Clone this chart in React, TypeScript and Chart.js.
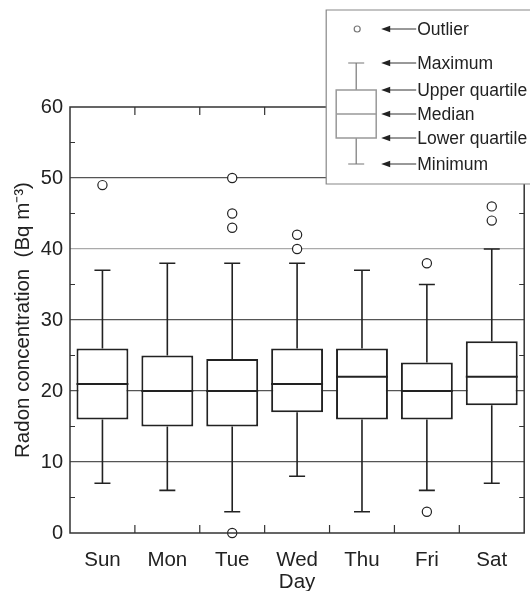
import React, { useEffect, useRef } from "react";
import { Chart, registerables } from "chart.js";

Chart.register(...registerables);

const days = ["Sun", "Mon", "Tue", "Wed", "Thu", "Fri", "Sat"];
const minimum = [7, 6, 3, 8, 3, 6, 7];
const lowerQuartile = [16, 15, 15, 17, 16, 16, 18];
const median = [21, 20, 20, 21, 22, 20, 22];
const upperQuartile = [26, 25, 24.5, 26, 26, 24, 27];
const maximum = [37, 38, 38, 38, 37, 35, 40];
const outlierDays = ["Sun", "Tue", "Tue", "Tue", "Tue", "Wed", "Wed", "Fri", "Fri", "Sat", "Sat"];
const outlierValues = [49, 50, 45, 43, 0, 42, 40, 38, 3, 46, 44];
const yTicks = [0, 10, 20, 30, 40, 50, 60];
const yMinorTicks = [5, 15, 25, 35, 45, 55];
const legendLabels = ["Outlier", "Maximum", "Upper quartile", "Median", "Lower quartile", "Minimum"];

const FONT = "'Liberation Sans', Arial, Helvetica, sans-serif";
const INK = "#222";

const boxPlugin = {
  id: "boxExtras",
  afterDatasetsDraw(chart: any) {
    const { ctx, scales } = chart;
    const xs = scales.x;
    const ys = scales.y;
    const meta = chart.getDatasetMeta(0);
    ctx.save();
    ctx.strokeStyle = INK;
    days.forEach((_, i) => {
      const x = xs.getPixelForValue(i);
      const bar = meta.data[i];
      const half = bar ? bar.width / 2 : 26;
      const cap = 8;
      const yMin = ys.getPixelForValue(minimum[i]);
      const yMax = ys.getPixelForValue(maximum[i]);
      const yQ1 = ys.getPixelForValue(lowerQuartile[i]);
      const yQ3 = ys.getPixelForValue(upperQuartile[i]);
      const yMed = ys.getPixelForValue(median[i]);
      ctx.lineWidth = 1.6;
      ctx.beginPath();
      ctx.moveTo(x, yQ3);
      ctx.lineTo(x, yMax);
      ctx.moveTo(x - cap, yMax);
      ctx.lineTo(x + cap, yMax);
      ctx.moveTo(x, yQ1);
      ctx.lineTo(x, yMin);
      ctx.moveTo(x - cap, yMin);
      ctx.lineTo(x + cap, yMin);
      ctx.stroke();
      ctx.lineWidth = 2;
      ctx.beginPath();
      ctx.moveTo(x - half, yMed);
      ctx.lineTo(x + half, yMed);
      ctx.stroke();
    });
    ctx.restore();
  },
  afterDraw(chart: any) {
    const { ctx, scales, chartArea: ca } = chart;
    const xs = scales.x;
    const ys = scales.y;
    ctx.save();
    // frame
    ctx.strokeStyle = "#333";
    ctx.lineWidth = 1.5;
    ctx.strokeRect(ca.left, ca.top, ca.right - ca.left, ca.bottom - ca.top);
    // minor ticks on y (both sides, inward)
    ctx.lineWidth = 1.2;
    ctx.beginPath();
    yMinorTicks.forEach((v) => {
      const y = ys.getPixelForValue(v);
      ctx.moveTo(ca.left, y);
      ctx.lineTo(ca.left + 5, y);
      ctx.moveTo(ca.right, y);
      ctx.lineTo(ca.right - 5, y);
    });
    // category boundary ticks (top and bottom, inward)
    for (let i = 0; i < days.length - 1; i++) {
      const x = (xs.getPixelForValue(i) + xs.getPixelForValue(i + 1)) / 2;
      ctx.moveTo(x, ca.bottom);
      ctx.lineTo(x, ca.bottom - 8);
      ctx.moveTo(x, ca.top);
      ctx.lineTo(x, ca.top + 8);
    }
    ctx.stroke();

    // explanatory key
    const L = ca.right - 198;
    const T = 10;
    const B = 184;
    ctx.fillStyle = "#fff";
    ctx.fillRect(L, T, chart.width - L + 10, B - T);
    ctx.strokeStyle = "#888";
    ctx.lineWidth = 1.2;
    ctx.beginPath();
    ctx.moveTo(chart.width + 5, T);
    ctx.lineTo(L, T);
    ctx.lineTo(L, B);
    ctx.lineTo(chart.width + 5, B);
    ctx.stroke();

    const rows = [29, 63, 90, 114, 138, 164];
    const gx = L + 30;
    // glyph
    ctx.strokeStyle = "#777";
    ctx.lineWidth = 1.2;
    ctx.beginPath();
    ctx.arc(gx + 1, rows[0], 3, 0, Math.PI * 2);
    ctx.stroke();
    ctx.beginPath();
    ctx.moveTo(gx, rows[1]);
    ctx.lineTo(gx, rows[2]);
    ctx.moveTo(gx - 8, rows[1]);
    ctx.lineTo(gx + 8, rows[1]);
    ctx.moveTo(gx, rows[4]);
    ctx.lineTo(gx, rows[5]);
    ctx.moveTo(gx - 8, rows[5]);
    ctx.lineTo(gx + 8, rows[5]);
    ctx.stroke();
    ctx.strokeStyle = "#999";
    ctx.lineWidth = 1.5;
    ctx.strokeRect(gx - 20, rows[2], 40, rows[4] - rows[2]);
    ctx.beginPath();
    ctx.moveTo(gx - 20, rows[3]);
    ctx.lineTo(gx + 20, rows[3]);
    ctx.stroke();

    // arrows and labels
    const ax0 = L + 55;
    const ax1 = L + 90;
    ctx.font = `17.5px ${FONT}`;
    ctx.textBaseline = "middle";
    ctx.textAlign = "left";
    legendLabels.forEach((label, k) => {
      const y = rows[k];
      ctx.strokeStyle = "#333";
      ctx.lineWidth = 1;
      ctx.beginPath();
      ctx.moveTo(ax0 + 6, y);
      ctx.lineTo(ax1, y);
      ctx.stroke();
      ctx.fillStyle = "#222";
      ctx.beginPath();
      ctx.moveTo(ax0, y);
      ctx.lineTo(ax0 + 9, y - 3.2);
      ctx.lineTo(ax0 + 9, y + 3.2);
      ctx.closePath();
      ctx.fill();
      ctx.fillStyle = INK;
      ctx.fillText(label, ax1 + 1, y + 1);
    });
    ctx.restore();
  },
};

export default function App() {
  const ref = useRef<HTMLCanvasElement | null>(null);
  useEffect(() => {
    if (!ref.current) return;
    const chart = new Chart(ref.current, {
      type: "bar",
      data: {
        labels: days,
        datasets: [
          {
            type: "bar",
            data: days.map((_, i) => [lowerQuartile[i], upperQuartile[i]]) as any,
            backgroundColor: "#fff",
            borderColor: INK,
            borderWidth: 2,
            borderSkipped: false,
            barPercentage: 0.8,
            categoryPercentage: 1,
            order: 2,
          } as any,
          {
            type: "line",
            data: outlierDays.map((d, i) => ({ x: d, y: outlierValues[i] })) as any,
            showLine: false,
            pointRadius: 4.6,
            pointBorderWidth: 1.2,
            pointBorderColor: INK,
            pointBackgroundColor: "#fff",
            clip: false,
            order: 1,
          } as any,
        ],
      },
      options: {
        responsive: false,
        animation: false,
        layout: { padding: { left: 0, right: 5, top: 107, bottom: 0 } },
        plugins: { legend: { display: false }, tooltip: { enabled: false } },
        scales: {
          x: {
            type: "category",
            offset: true,
            grid: { display: false },
            border: { display: false },
            ticks: { color: INK, font: { family: FONT, size: 20.5 }, padding: 7 },
            title: {
              display: true,
              text: "Day",
              color: INK,
              font: { family: FONT, size: 20.5, lineHeight: 1.2 },
              padding: { top: 0, bottom: -4 },
            },
            afterFit: (s: any) => {
              s.height = 58;
            },
          },
          y: {
            min: 0,
            max: 60,
            afterBuildTicks: (s: any) => {
              s.ticks = yTicks.map((v) => ({ value: v }));
            },
            grid: {
              drawTicks: false,
              lineWidth: 1.2,
              color: (c: any) =>
                c.tick && (c.tick.value === 0 || c.tick.value === 60)
                  ? "rgba(0,0,0,0)"
                  : c.tick && c.tick.value === 40
                  ? "#aaa"
                  : "#555",
            },
            border: { display: false },
            ticks: { color: INK, font: { family: FONT, size: 20 }, padding: 7 },
            title: {
              display: true,
              text: "Radon concentration  (Bq m\u207B\u00B3)",
              color: INK,
              font: { family: FONT, size: 20.5, lineHeight: 1.2 },
              padding: { top: 11, bottom: 0 },
            },
            afterFit: (s: any) => {
              s.width = 70;
            },
          },
        },
      },
      plugins: [boxPlugin],
    });
    return () => chart.destroy();
  }, []);
  return (
    <div style={{ position: "fixed", left: 0, top: 0, width: 530, height: 591, background: "#fff" }}>
      <canvas ref={ref} width={530} height={591} style={{ display: "block" }} />
    </div>
  );
}
